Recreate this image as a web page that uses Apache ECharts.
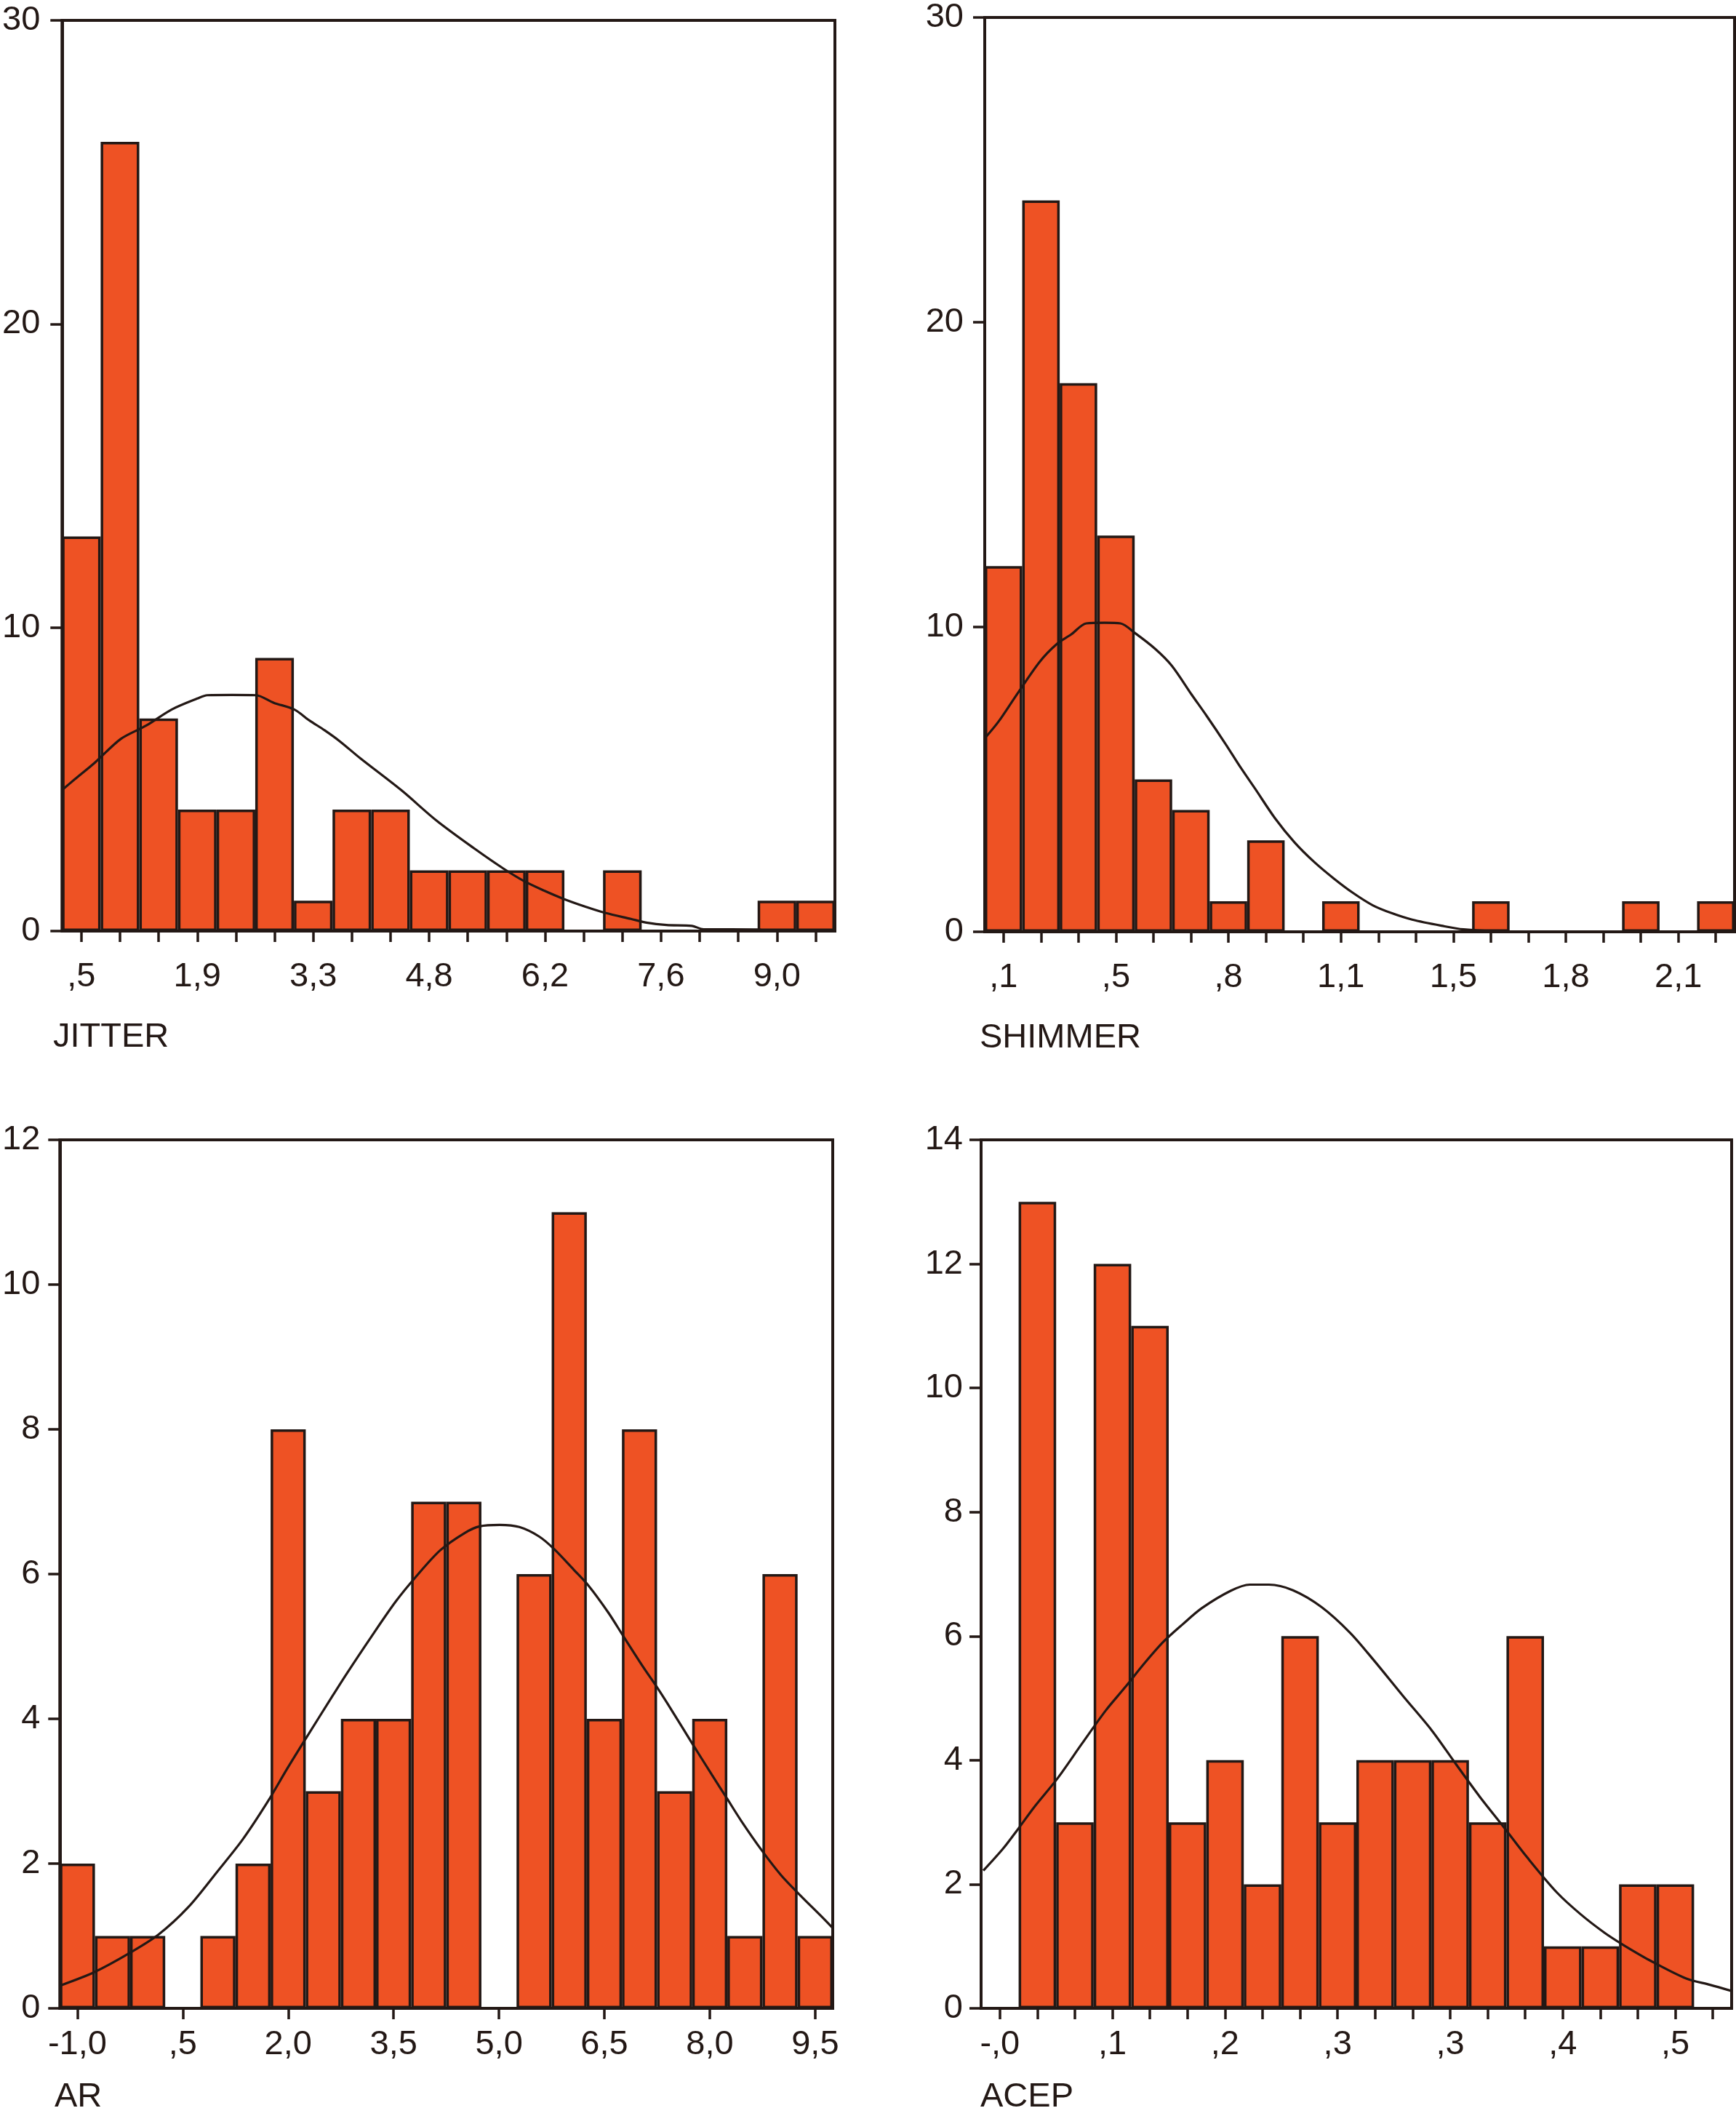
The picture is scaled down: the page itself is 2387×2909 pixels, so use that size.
<!DOCTYPE html>
<html><head><meta charset="utf-8">
<script src="https://cdn.jsdelivr.net/npm/echarts@6/dist/echarts.min.js"></script>
<style>html,body{margin:0;padding:0;background:#fff}#c{width:2387px;height:2909px}</style>
</head><body><div id="c"></div>
<script>
// ---------- data ----------
const jitterCounts = [13,26,7,4,4,9,1,4,4,2,2,2,2,0,2,0,0,0,1,1];
const jitterTicks = [',5','1,9','3,3','4,8','6,2','7,6','9,0'];
const jitterCurve = [[0.03,4.68],[0.33,5.0],[0.86,5.56],[1.52,6.33],[2.18,6.77],[2.84,7.30],[3.50,7.66],[3.76,7.77],[4.4,7.78],[5.02,7.77],[5.48,7.52],[6.01,7.30],[6.40,6.94],[6.80,6.61],[7.19,6.25],[7.72,5.69],[8.78,4.64],[9.70,3.63],[10.69,2.70],[11.42,2.06],[11.95,1.65],[12.48,1.33],[13.0,1.05],[13.53,0.81],[14.06,0.60],[14.72,0.40],[15.12,0.28],[15.64,0.20],[16.3,0.17],[16.6,0.06],[18.0,0.05],[18.3,0],[20,0]];

const shimmerCounts = [12,24,18,13,5,4,1,3,0,1,0,0,0,1,0,0,0,1,0,1];
const shimmerTicks = [',1',',5',',8','1,1','1,5','1,8','2,1'];
const shimmerCurve = [[0.03,6.39],[0.37,6.90],[0.81,7.70],[1.46,8.85],[1.92,9.44],[2.31,9.76],[2.71,10.12],[3.2,10.14],[3.62,10.12],[4.01,9.80],[4.54,9.29],[4.99,8.73],[5.52,7.78],[5.91,7.10],[6.43,6.15],[6.82,5.40],[7.22,4.68],[7.74,3.73],[8.26,2.94],[8.78,2.30],[9.31,1.75],[9.83,1.27],[10.35,0.87],[10.88,0.60],[11.40,0.40],[12.18,0.20],[12.77,0.08],[14.14,0],[20,0]];

const arCounts = [2,1,1,0,1,2,8,3,4,4,7,7,0,6,11,4,8,3,4,1,6,1];
const arTicks = ['-1,0',',5','2,0','3,5','5,0','6,5','8,0','9,5'];
const arCurve = [[0.04,0.32],[0.98,0.50],[1.97,0.76],[2.81,1.02],[3.66,1.40],[4.50,1.90],[5.20,2.33],[5.91,2.85],[6.47,3.31],[7.03,3.75],[7.74,4.30],[8.16,4.62],[8.86,5.13],[9.56,5.62],[10.13,5.96],[10.83,6.33],[11.53,6.57],[11.95,6.66],[12.52,6.68],[13.08,6.65],[13.64,6.52],[14.06,6.35],[14.63,6.06],[15.05,5.84],[15.61,5.47],[16.03,5.15],[16.60,4.72],[17.02,4.42],[17.44,4.10],[18.00,3.66],[18.57,3.22],[18.99,2.90],[19.41,2.58],[19.97,2.19],[20.53,1.84],[21.10,1.55],[21.66,1.28],[22.0,1.11]];

const acepCounts = [0,13,3,12,11,3,4,2,6,3,4,4,4,3,6,1,1,2,2,0];
const acepTicks = ['-,0',',1',',2',',3',',3',',4',',5'];
const acepCurve = [[0.06,2.22],[0.58,2.57],[0.96,2.87],[1.41,3.24],[2.04,3.71],[2.68,4.26],[3.32,4.80],[3.83,5.17],[4.35,5.56],[4.86,5.91],[5.37,6.19],[5.88,6.45],[6.65,6.73],[7.16,6.83],[7.67,6.83],[8.31,6.74],[9.07,6.47],[9.84,6.05],[10.48,5.60],[11.25,5.03],[12.01,4.48],[12.65,3.94],[13.29,3.41],[13.93,2.92],[14.57,2.42],[15.34,1.87],[15.97,1.52],[16.61,1.22],[17.12,1.02],[17.89,0.75],[18.79,0.48],[19.42,0.38],[20.0,0.28]];

const names = ['JITTER','SHIMMER','AR','ACEP'];
const yMax = [30,30,12,14];
const yStep = [10,10,2,2];

// ---------- layout / style ----------
const INK = '#231815';
const BAR = '#EE5224';
const FONT = "'Liberation Sans', Arial, Helvetica, sans-serif";
const FS = 47;
const panels = [
  {counts: jitterCounts, ticks: jitterTicks, curve: jitterCurve, grid:{left:83, top:28, width:1065, height:1252}, tickEvery:0, xMargin:40, yMargin:30, name:{left:73, top:1403}},
  {counts: shimmerCounts, ticks: shimmerTicks, curve: shimmerCurve, grid:{left:1354, top:24, width:1031, height:1257}, tickEvery:0, xMargin:40, yMargin:29, name:{left:1347, top:1404}},
  {counts: arCounts, ticks: arTicks, curve: arCurve, grid:{left:78, top:1567, width:1067, height:1194}, tickEvery:2, xMargin:27, yMargin:27, name:{left:75, top:2860}},
  {counts: acepCounts, ticks: acepTicks, curve: acepCurve, grid:{left:1349, top:1567, width:1032, height:1194}, tickEvery:0, xMargin:27, yMargin:25, name:{left:1348, top:2860}}
];

const option = {animation:false, backgroundColor:'#fff', grid:[], xAxis:[], yAxis:[], series:[], title:[]};
panels.forEach((p, i) => {
  const n = p.counts.length;
  const cats = p.counts.map((_, k) => String(k));
  option.grid.push(Object.assign({show:true, borderColor:INK, borderWidth:4, backgroundColor:'transparent'}, p.grid));
  option.xAxis.push({
    type:'category', gridIndex:i, data:cats, boundaryGap:true,
    axisLine:{show:true, lineStyle:{color:INK, width:4}},
    axisTick:{show:true, alignWithLabel:true, interval:p.tickEvery, length:15, lineStyle:{color:INK, width:3.5}},
    axisLabel:{interval:2, margin:p.xMargin, color:INK, fontSize:FS, fontFamily:FONT,
      formatter:(v, idx) => p.ticks[Math.round(idx/3)] || ''},
    splitLine:{show:false}
  });
  option.xAxis.push({type:'value', gridIndex:i, min:0, max:n, show:false});
  option.yAxis.push({
    type:'value', gridIndex:i, min:0, max:yMax[i], interval:yStep[i],
    axisLine:{show:true, lineStyle:{color:INK, width:4}},
    axisTick:{show:true, length:16, lineStyle:{color:INK, width:3.5}},
    axisLabel:{margin:p.yMargin, color:INK, fontSize:FS, fontFamily:FONT},
    splitLine:{show:false}
  });
  option.series.push({
    type:'bar', xAxisIndex:2*i, yAxisIndex:i, data:p.counts, barCategoryGap:'0%',
    itemStyle:{color:BAR, borderColor:INK, borderWidth:3.5}, silent:true
  });
  option.series.push({
    type:'line', xAxisIndex:2*i+1, yAxisIndex:i, data:p.curve, smooth:0.3, symbol:'none',
    lineStyle:{color:INK, width:3.2}, z:5, silent:true
  });
  option.title.push({text:names[i], left:p.name.left, top:p.name.top, padding:0,
    textStyle:{color:INK, fontSize:FS, fontWeight:'normal', fontFamily:FONT}});
});

const chart = echarts.init(document.getElementById('c'), null, {renderer:'canvas'});
chart.setOption(option);
</script></body></html>
